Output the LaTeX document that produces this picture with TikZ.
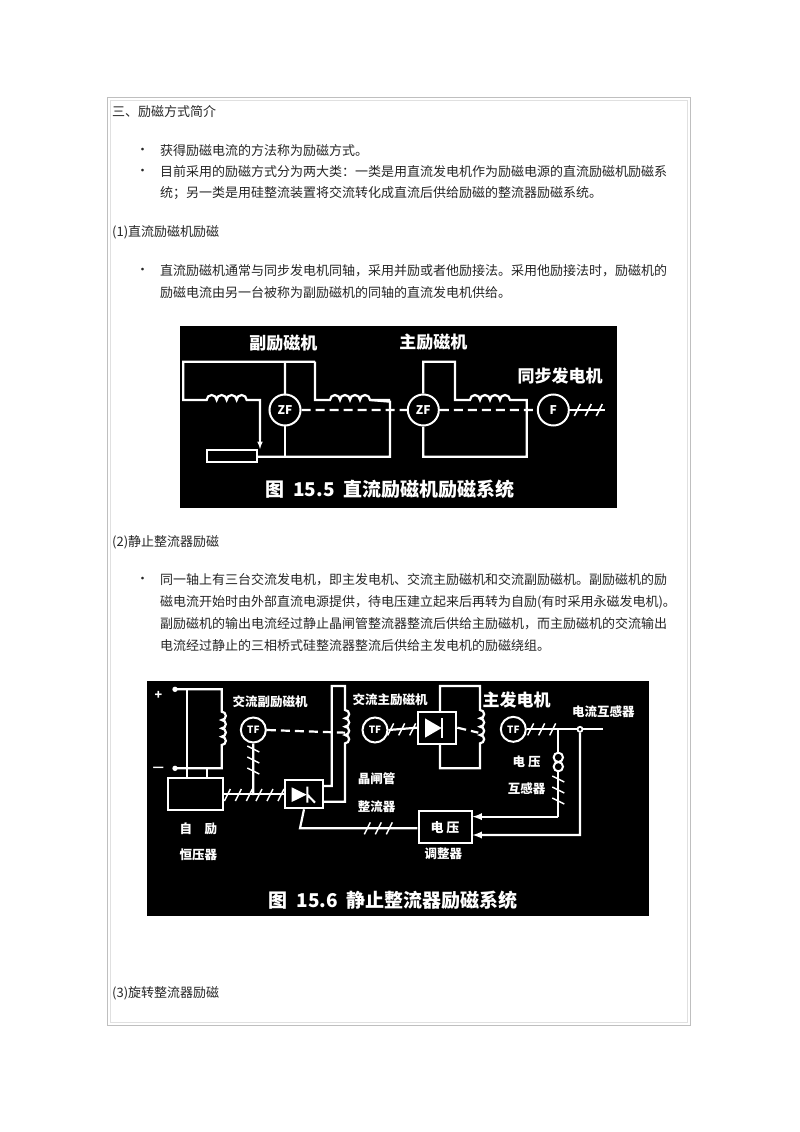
\documentclass[tikz,border=0pt]{standalone}
\usepackage{fontspec}
\setmainfont{Noto Sans CJK SC}
\newfontfamily\cjk{Noto Sans CJK SC}
\begin{document}
\begin{tikzpicture}[x=1pt,y=-1pt,
  txt/.style={anchor=west,inner sep=0pt,font=\fontsize{13}{15}\selectfont,text=black!85},
  wl/.style={draw=white,line width=2.2pt},
  lab/.style={text=white,font=\fontsize{17}{19}\selectfont\bfseries,inner sep=0pt},
  smlab/.style={text=white,font=\fontsize{12.5}{14}\selectfont\bfseries,inner sep=0pt},
  figcap/.style={text=white,font=\fontsize{19}{21}\selectfont\bfseries,inner sep=0pt},
  tri/.pic={\draw[white,line width=1.5pt] (-14,6)--(-8,-6) (-3,6)--(3,-6) (8,6)--(14,-6);},
  dsh/.style={draw=white,line width=2.2pt,dash pattern=on 9pt off 5pt}]
\path[use as bounding box,fill=white] (0,0) rectangle (800,1132);
\draw[black!25,line width=1pt] (107,97) rectangle (690,1025);
\draw[black!12,line width=1pt] (110,100) rectangle (687,1022);
\node[txt] (t1) at (112,112) {三、励磁方式简介};
\node[txt] (b1) at (136,151) {•};
\node[txt] (t2) at (160,151) {获得励磁电流的方法称为励磁方式。};
\node[txt] (b2) at (136,172) {•};
\node[txt] (t3) at (160,172) {目前采用的励磁方式分为两大类：一类是用直流发电机作为励磁电源的直流励磁机励磁系};
\node[txt] (t4) at (160,193) {统；另一类是用硅整流装置将交流转化成直流后供给励磁的整流器励磁系统。};
\node[txt] (t5) at (112,232) {(1)直流励磁机励磁};
\node[txt] (b3) at (136,271) {•};
\node[txt] (t6) at (160,271) {直流励磁机通常与同步发电机同轴，采用并励或者他励接法。采用他励接法时，励磁机的};
\node[txt] (t7) at (160,293) {励磁电流由另一台被称为副励磁机的同轴的直流发电机供给。};
\node[txt] (t8) at (112,542) {(2)静止整流器励磁};
\node[txt] (b4) at (136,580) {•};
\node[txt] (t9) at (160,580) {同一轴上有三台交流发电机，即主发电机、交流主励磁机和交流副励磁机。副励磁机的励};
\node[txt] (t10) at (160,602) {磁电流开始时由外部直流电源提供，待电压建立起来后再转为自励(有时采用永磁发电机)。};
\node[txt] (t11) at (160,624) {副励磁机的输出电流经过静止晶闸管整流器整流后供给主励磁机，而主励磁机的交流输出};
\node[txt] (t12) at (160,646) {电流经过静止的三相桥式硅整流器整流后供给主发电机的励磁绕组。};
\node[txt] (t13) at (112,993) {(3)旋转整流器励磁};
% Figure 1
\fill[black] (180,326) rectangle (617,508);
\begin{scope}[shift={(180,325)},scale=1/3]
\node[lab] (f1a) at (310,55) {副励磁机};
\node[lab] (f1b) at (760,50) {主励磁机};
\node[lab] (f1c) at (1140,152) {同步发电机};
\node[figcap] (f1cap) at (630,492) {图\ \ 15.5\ \ 直流励磁机励磁系统};
\draw[wl] (315,210)--(315,110) (405,110)--(10,110)--(10,225)--(80,225)
  arc(180:360:15) arc(180:360:15) arc(180:360:15) arc(180:360:15)--(240,225)--(240,345);
\draw[white,-latex,line width=1.5pt] (240,300)--(240,372);
\draw[wl] (80,375) rectangle (230,410);
\draw[wl] (230,395)--(630,395)--(630,230)--(570,225);
\draw[wl] (315,300)--(315,395);
\draw[wl] (405,110)--(405,225)--(450,225) arc(180:360:15) arc(180:360:15) arc(180:360:15) arc(180:360:15)--(630,225);
\node[circle,draw=white,line width=2pt,minimum size=31pt,inner sep=0pt,text=white,font=\bfseries\fontsize{12}{12}\selectfont] (zf1) at (315,255) {ZF};
\draw[dsh] (zf1.east)--(690,255);
\node[circle,draw=white,line width=2pt,minimum size=31pt,inner sep=0pt,text=white,font=\bfseries\fontsize{12}{12}\selectfont] (zf2) at (730,255) {ZF};
\draw[wl] (zf2.north)--(730,110)--(825,110)--(825,225)--(870,225) arc(180:360:15) arc(180:360:15) arc(180:360:15) arc(180:360:15)--(1040,225)--(1040,395)--(730,395)--(zf2.south);
\draw[dsh] (zf2.east)--(1075,255);
\node[circle,draw=white,line width=2pt,minimum size=31pt,inner sep=0pt,text=white,font=\bfseries\fontsize{12}{12}\selectfont] (f1g) at (1120,255) {F};
\coordinate (f1e) at (1275,255);
\draw[wl] (f1g.east)--(f1e);
\pic at (1225,255) {tri};
\end{scope}
% Figure 2
\fill[black] (147,681) rectangle (649,916);
\begin{scope}[shift={(145,680)},scale=1/3]
\node[smlab] at (40,45) {+};
\node[smlab] at (40,268) {—};
\node[smlab] (l1) at (375,65) {交流副励磁机};
\node[smlab] (l2) at (735,60) {交流主励磁机};
\node[lab] (l3) at (1115,60) {主发电机};
\node[smlab] (l4) at (1375,95) {电流互感器};
\node[smlab] (l5) at (1145,245) {电\ 压};
\node[smlab] (l6) at (1145,325) {互感器};
\node[smlab] (l7) at (695,295) {晶闸管};
\node[smlab] (l8) at (695,380) {整流器};
\node[smlab] (l9) at (160,445) {自\quad 励};
\node[smlab] (l10) at (160,525) {恒压器};
\node[smlab] (l11) at (895,522) {调整器};
\node[figcap] (f2cap) at (745,660) {图\ \ 15.6\ \ 静止整流器励磁系统};
\fill[white] (90,28) circle (8) (90,265) circle (8);
\draw[wl] (90,28)--(230,28)--(230,95) arc(-90:90:12.5) arc(-90:90:12.5) arc(-90:90:12.5) arc(-90:90:12.5)--(230,265)--(90,265);
\draw[wl] (125,28)--(125,295) (185,265)--(185,295);
\node[draw=white,line width=2pt,minimum width=55pt,minimum height=32pt,inner sep=0pt] (zl) at (152,343) {};
\node[draw=white,line width=2pt,minimum width=38pt,minimum height=28pt,inner sep=0pt] (thy) at (477,343) {};
\fill[white] (440,322)--(440,366)--(485,344)--cycle;
\draw[white,line width=2pt] (487,320)--(487,368) (487,344)--(510,368);
\node[circle,draw=white,line width=2pt,minimum size=25pt,inner sep=0pt,text=white,font=\bfseries\fontsize{10}{10}\selectfont] (tf1) at (325,150) {TF};
\draw[wl] (zl.east)--(thy.west);
\pic at (280,345) {tri};
\pic at (375,345) {tri};
\draw[wl] (325,345)--(tf1.south);
\pic[rotate=90] at (325,240) {tri};
\draw[dsh] (tf1.east)--(600,158);
\draw[wl] (535,318)--(560,318)--(560,18)--(600,18)--(600,90) arc(-90:90:12.5) arc(-90:90:12.5) arc(-90:90:12.5) arc(-90:90:12.5)--(600,365)--(535,365);
\node[circle,draw=white,line width=2pt,minimum size=25pt,inner sep=0pt,text=white,font=\bfseries\fontsize{10}{10}\selectfont] (tf2) at (690,150) {TF};
\draw[wl] (885,95)--(885,18)--(1005,18)--(1005,90) arc(-90:90:12.5) arc(-90:90:12.5) arc(-90:90:12.5) arc(-90:90:12.5)--(1005,265)--(885,265)--(885,192);
\node[draw=white,line width=2pt,fill=black,minimum width=38pt,minimum height=32pt,inner sep=0pt] (dio) at (877,143) {};
\fill[white] (840,115)--(840,173)--(890,144)--cycle;
\draw[white,line width=2pt] (892,115)--(892,173);
\draw[wl] (tf2.east)--(dio.west);
\pic at (770,148) {tri};
\draw[dsh] (dio.east)--(1000,158);
\node[circle,draw=white,line width=2pt,minimum size=25pt,inner sep=0pt,text=white,font=\bfseries\fontsize{10}{10}\selectfont] (mg) at (1105,148) {TF};
\coordinate (e2) at (1375,148);
\node[circle,draw=white,line width=1.8pt,minimum size=5pt,inner sep=0pt] (ct) at (1305,148) {};
\draw[wl] (mg.east)--(ct.west) (ct.east)--(e2);
\pic at (1190,148) {tri};
\draw[white,line width=2pt] (1240,232) circle (14) (1240,260) circle (14);
\node[draw=white,line width=2pt,minimum width=53pt,minimum height=32pt,inner sep=0pt,text=white,font=\bfseries\fontsize{13}{13}\selectfont] (reg) at (900,442) {电\ 压};
\draw[wl] (1240,148)--(1240,218) (1240,274)--(1240,410);
\draw[wl,-latex] (1240,410)--(reg.east |- 0,410);
\draw[wl,-latex] (ct.south)--(1305,465)--(reg.east |- 0,465);
\pic[rotate=90] at (1240,330) {tri};
\draw[wl] (thy.south)--(465,445)--(reg.west |- 0,445);
\pic at (700,445) {tri};
\end{scope}
\end{tikzpicture}
\end{document}
